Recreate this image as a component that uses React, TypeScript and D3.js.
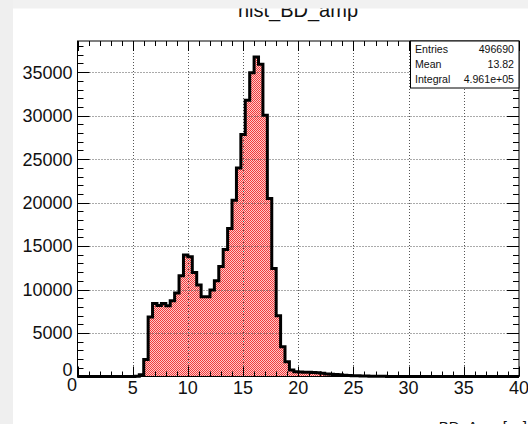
import { scaleLinear, range } from "d3";

// hist_BD_amp : 100 bins of 0.4 ns between 0 and 40
const BIN_LOW = 0;
const BIN_HIGH = 40;
const BIN_WIDTH = 0.4;

const counts = [
  // 0.0 - 5.2
  0, 0, 0, 0, 0, 0, 0, 0, 0, 0, 0, 0, 0,
  // 5.2 - 10.0
  30, 200, 1950, 6850, 8410, 8180, 8410, 8130, 8700, 9600, 11600, 13960,
  // 10.0 - 14.8
  13760, 11970, 10510, 9170, 9170, 9940, 11010, 12650, 14610, 17030, 20280, 23990,
  // 14.8 - 19.6
  27830, 31770, 34950, 36750, 35900, 30040, 20470, 12430, 7000, 3420, 1700, 750,
  // 19.6 - 24.4
  550, 520, 500, 480, 450, 420, 380, 300, 270, 220, 190, 150,
  // 24.4 - 29.2
  120, 100, 80, 60, 50, 40, 30, 20, 15, 10, 8, 6,
  // 29.2 - 40.0
  5, 4, 4, 3, 3, 2, 2, 2, 1, 1, 1, 1, 1, 1, 0, 0, 0, 0, 0, 0, 0, 0, 0, 0, 0, 0, 0,
];

const xTicks = [0, 5, 10, 15, 20, 25, 30, 35, 40];
const yTicks = [0, 5000, 10000, 15000, 20000, 25000, 30000, 35000];

const TITLE = "hist_BD_amp";
const X_TITLE = "BD_Amp [ns]";
const statNames = ["Entries", "Mean", "Integral"];
const statValues = ["496690", "13.82", "4.961e+05"];

const W = 528;
const H = 424;
const FRAME = { left: 77.5, right: 519, top: 41, bottom: 376.5 };
const FONT = "'Liberation Sans', Arial, Helvetica, sans-serif";

export default function App() {
  const yMax = Math.max(...counts) * 1.05;
  const x = scaleLinear().domain([BIN_LOW, BIN_HIGH]).range([FRAME.left, FRAME.right]);
  const y = scaleLinear().domain([0, yMax]).range([FRAME.bottom, FRAME.top]);

  // step outline of the histogram
  let d = `M${x(BIN_LOW)},${y(0)}`;
  counts.forEach((c, i) => {
    const lo = BIN_LOW + i * BIN_WIDTH;
    d += `L${x(lo)},${y(c)}L${x(lo + BIN_WIDTH)},${y(c)}`;
  });
  d += `L${x(BIN_HIGH)},${y(0)}`;

  const xMinor = range(0, 41, 1);
  const yMinor = range(0, yMax, 1000);
  const snap = (v: number) => Math.round(v) + 0.5;

  return (
    <svg
      width={W}
      height={H}
      style={{ position: "absolute", left: 0, top: 0, background: "#fff" }}
      fontFamily={FONT}
    >
      <defs>
        <pattern id="hatch" width="2" height="2" patternUnits="userSpaceOnUse">
          <rect width="2" height="2" fill="#f03c3c" />
          <rect x="1" y="0" width="1" height="1" fill="#ffc8c8" />
          <rect x="0" y="1" width="1" height="1" fill="#ffc8c8" />
        </pattern>
      </defs>

      <text x={298} y={16.7} fontSize={20} textAnchor="middle" fill="#111">
        {TITLE}
      </text>

      {/* histogram fill */}
      <path d={d + "Z"} fill="url(#hatch)" stroke="none" />

      {/* grid */}
      <g stroke="#555" strokeWidth={1} strokeDasharray="1 2">
        {xTicks.slice(1, -1).map((t) => (
          <line key={"gx" + t} x1={snap(x(t))} x2={snap(x(t))} y1={FRAME.top} y2={FRAME.bottom} />
        ))}
        {yTicks.slice(1).map((t) => (
          <line key={"gy" + t} x1={FRAME.left} x2={FRAME.right} y1={snap(y(t))} y2={snap(y(t))} />
        ))}
      </g>

      {/* histogram outline */}
      <path d={d} fill="none" stroke="#000" strokeWidth={3} strokeLinejoin="miter" />

      {/* frame */}
      <rect
        x={FRAME.left}
        y={FRAME.top}
        width={FRAME.right - FRAME.left}
        height={FRAME.bottom - FRAME.top}
        fill="none"
        stroke="#000"
        strokeWidth={1}
      />

      {/* ticks on all four sides */}
      <g stroke="#000" strokeWidth={1}>
        {xMinor.map((t) => {
          const len = t % 5 === 0 ? 10 : 5;
          const xx = snap(x(t));
          return (
            <g key={"tx" + t}>
              <line x1={xx} x2={xx} y1={FRAME.bottom} y2={FRAME.bottom - len} />
              <line x1={xx} x2={xx} y1={FRAME.top} y2={FRAME.top + len} />
            </g>
          );
        })}
        {yMinor.map((t) => {
          const len = t % 5000 === 0 ? 12 : 6;
          const yy = snap(y(t));
          return (
            <g key={"ty" + t}>
              <line x1={FRAME.left} x2={FRAME.left + len} y1={yy} y2={yy} />
              <line x1={FRAME.right} x2={FRAME.right - len} y1={yy} y2={yy} />
            </g>
          );
        })}
      </g>

      {/* axis labels */}
      <g fontSize={18} fill="#111">
        {xTicks.map((t) => (
          <text key={"lx" + t} x={t === 0 ? 72 : x(t)} y={t === 0 ? 391 : 394} textAnchor="middle">
            {t}
          </text>
        ))}
        {yTicks.map((t) => (
          <text
            key={"ly" + t}
            x={72.5}
            y={t === 0 ? 375.5 : y(t) + 6.4}
            textAnchor="end"
          >
            {t}
          </text>
        ))}
      </g>

      <text x={527} y={432} fontSize={15} textAnchor="end" fill="#111">
        {X_TITLE}
      </text>

      {/* stats box */}
      <rect x={410.5} y={FRAME.top} width={FRAME.right - 410.5} height={47} fill="#fff" stroke="#000" />
      <g fontSize={10.6} fill="#111">
        {statNames.map((n, i) => (
          <g key={n}>
            <text x={415} y={52.5 + i * 15.3}>
              {n}
            </text>
            <text x={514} y={52.5 + i * 15.3} textAnchor="end">
              {statValues[i]}
            </text>
          </g>
        ))}
      </g>

      {/* light page background strips that cover the title top */}
      <rect x={0} y={0} width={W} height={8.5} fill="#f1f1f1" />
      <rect x={0} y={0} width={13} height={H} fill="#efefef" />
    </svg>
  );
}
